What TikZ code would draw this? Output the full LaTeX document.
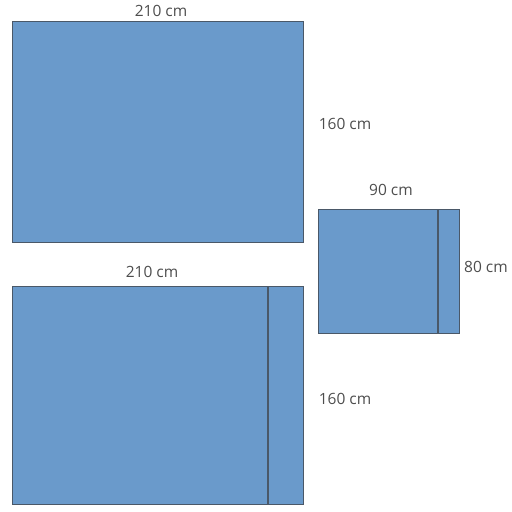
\documentclass[tikz,border=0pt]{standalone}
\usepackage{fontspec}
\setmainfont{Open Sans}
\definecolor{drape}{HTML}{6A9ACB}
\definecolor{edge}{HTML}{4A5868}
\definecolor{txt}{HTML}{4D4D4D}
\begin{document}
\begin{tikzpicture}[x=1pt,y=-1pt,
    sheet/.style={draw=edge,fill=drape,line width=1pt},
    fold/.style={draw=edge,line width=1.3pt},
    dim/.style={text=txt,font=\fontsize{15.5}{17}\selectfont,inner sep=0pt}]
  \useasboundingbox (0,0) rectangle (512,512);
  % top drape
  \path[sheet] (12,21) rectangle (303,242);
  \node[dim] (topw) at (161,11) {210 cm};
  \node[dim] (toph) at (345,124) {160 cm};
  % bottom drape with fold
  \path[sheet] (12,286) rectangle (303,504);
  \draw[fold] (268,286) -- (268,504);
  \node[dim] (botw) at (152,272) {210 cm};
  \node[dim] (both) at (345,399) {160 cm};
  % small drape with fold
  \path[sheet] (318,209) rectangle (459,333);
  \draw[fold] (438,209) -- (438,333);
  \node[dim] (smw) at (391,190) {90 cm};
  \node[dim] (smh) at (486,267) {80 cm};
\end{tikzpicture}
\end{document}
